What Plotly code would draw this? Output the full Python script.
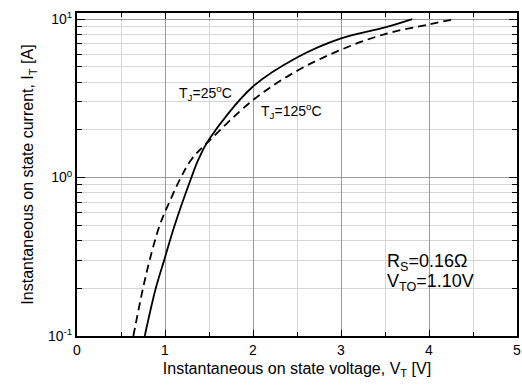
import plotly.graph_objects as go

# 25 °C curve (solid)
v_25 = [0.77, 0.895, 0.99, 1.11, 1.30, 1.38, 1.50, 2.00, 2.50, 3.00, 3.50, 3.81]
i_25 = [0.10, 0.20, 0.30, 0.50, 1.00, 1.30, 1.74, 3.75, 5.72, 7.55, 8.86, 10.0]

# 125 °C curve (dashed)
v_125 = [0.64, 0.75, 0.825, 0.94, 1.05, 1.18, 1.30, 1.50, 2.00, 2.50, 3.00, 3.50, 4.00, 4.30]
i_125 = [0.10, 0.20, 0.30, 0.50, 0.70, 1.00, 1.30, 1.70, 3.08, 4.71, 6.40, 8.04, 9.25, 10.0]

x_ticks = [0, 1, 2, 3, 4, 5]
y_tickvals = [0.1, 1, 10]
y_ticktext = ["10<sup>-1</sup>", "10<sup>0</sup>", "10<sup>1</sup>"]

FONT = "Liberation Sans, Arial, sans-serif"

fig = go.Figure()
fig.add_trace(go.Scatter(x=v_25, y=i_25, mode="lines",
                         line=dict(color="black", width=1.8, shape="spline"),
                         showlegend=False, hoverinfo="skip"))
fig.add_trace(go.Scatter(x=v_125, y=i_125, mode="lines",
                         line=dict(color="black", width=1.8, dash="8px,5px", shape="spline"),
                         showlegend=False, hoverinfo="skip"))

fig.update_layout(
    width=522, height=387,
    margin=dict(l=77, r=5, t=13, b=51),
    paper_bgcolor="white", plot_bgcolor="white",
    font=dict(family=FONT, size=14, color="black"),
)

fig.update_xaxes(
    range=[0, 5], tickvals=x_ticks, ticktext=[str(t) for t in x_ticks],
    showline=True, linecolor="black", linewidth=2, mirror="ticks",
    ticks="inside", ticklen=6, tickcolor="black", tickwidth=1,
    showgrid=True, gridcolor="#999999", gridwidth=1, zeroline=False,
    minor=dict(dtick=0.5, ticks="inside", ticklen=4, tickcolor="black",
               showgrid=True, gridcolor="#d6d6d6", gridwidth=1),
    title=dict(text="Instantaneous on state voltage, V<sub>T</sub> [V]", font=dict(size=16), standoff=6),
    tickfont=dict(size=14), automargin=False, ticklabeloverflow="allow",
)
fig.update_yaxes(
    type="log", range=[-1, 1.038], tickvals=y_tickvals, ticktext=y_ticktext,
    showline=True, linecolor="black", linewidth=2, mirror="ticks",
    ticks="inside", ticklen=8, tickcolor="black", tickwidth=1,
    showgrid=True, gridcolor="#999999", gridwidth=1, zeroline=False,
    minor=dict(dtick="D1", ticks="inside", ticklen=5, tickcolor="black",
               showgrid=True, gridcolor="#d6d6d6", gridwidth=1),
    title=dict(text="Instantaneous on state current, I<sub>T</sub> [A]", font=dict(size=16), standoff=10),
    tickfont=dict(size=14), automargin=False, ticklabeloverflow="allow",
)

fig.add_annotation(x=1.455, y=0.535, xref="x", yref="y", text="T<sub>J</sub>=25<sup>o</sup>C",
                   showarrow=False, font=dict(size=14), xanchor="center", yanchor="middle")
fig.add_annotation(x=2.44, y=0.42, xref="x", yref="y", text="T<sub>J</sub>=125<sup>o</sup>C",
                   showarrow=False, font=dict(size=14), xanchor="center", yanchor="middle")
fig.add_annotation(x=3.5, y=-0.538, xref="x", yref="y", text="R<sub>S</sub>=0.16Ω",
                   showarrow=False, font=dict(size=18), xanchor="left", yanchor="middle")
fig.add_annotation(x=3.5, y=-0.665, xref="x", yref="y", text="V<sub>TO</sub>=1.10V",
                   showarrow=False, font=dict(size=18), xanchor="left", yanchor="middle")

# remove the default page margin and scrollbars so the figure fills the window exactly
page_js = ("document.documentElement.style.overflow='hidden';"
           "document.body.style.overflow='hidden';"
           "document.body.style.margin='0';")

fig.write_html("out.html", post_script=page_js, config={"displayModeBar": False, "staticPlot": True})
